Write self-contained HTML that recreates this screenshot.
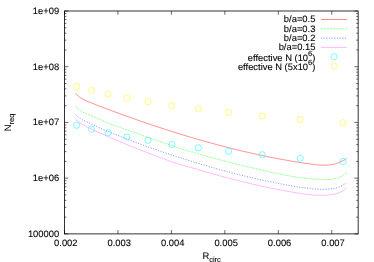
<!DOCTYPE html><html><head><meta charset="utf-8"><style>
html,body{margin:0;padding:0;background:#fff;overflow:hidden}
svg{display:block;position:absolute;left:0;top:0;opacity:0.999;will-change:transform}
text{font-family:"Liberation Sans",sans-serif;font-size:9.4px;fill:#000;text-rendering:geometricPrecision;stroke:#000;stroke-width:0.1px}
</style></head><body>
<svg width="374" height="262" viewBox="0 0 374 262">
<rect width="374" height="262" fill="#fff"/>
<g stroke="#000" stroke-width="0.8" fill="none" stroke-linecap="butt">
<rect x="64.5" y="11.0" width="293.65" height="222.9"/>
<path d="M64.5,233.90h3.8M358.15,233.90h-3.8M64.5,217.13h1.9M358.15,217.13h-1.9M64.5,207.31h1.9M358.15,207.31h-1.9M64.5,200.35h1.9M358.15,200.35h-1.9M64.5,194.95h1.9M358.15,194.95h-1.9M64.5,190.54h1.9M358.15,190.54h-1.9M64.5,186.81h1.9M358.15,186.81h-1.9M64.5,183.58h1.9M358.15,183.58h-1.9M64.5,180.72h1.9M358.15,180.72h-1.9M64.5,178.18h3.8M358.15,178.18h-3.8M64.5,161.40h1.9M358.15,161.40h-1.9M64.5,151.59h1.9M358.15,151.59h-1.9M64.5,144.63h1.9M358.15,144.63h-1.9M64.5,139.22h1.9M358.15,139.22h-1.9M64.5,134.81h1.9M358.15,134.81h-1.9M64.5,131.08h1.9M358.15,131.08h-1.9M64.5,127.85h1.9M358.15,127.85h-1.9M64.5,125.00h1.9M358.15,125.00h-1.9M64.5,122.45h3.8M358.15,122.45h-3.8M64.5,105.68h1.9M358.15,105.68h-1.9M64.5,95.86h1.9M358.15,95.86h-1.9M64.5,88.90h1.9M358.15,88.90h-1.9M64.5,83.50h1.9M358.15,83.50h-1.9M64.5,79.09h1.9M358.15,79.09h-1.9M64.5,75.36h1.9M358.15,75.36h-1.9M64.5,72.13h1.9M358.15,72.13h-1.9M64.5,69.27h1.9M358.15,69.27h-1.9M64.5,66.72h3.8M358.15,66.72h-3.8M64.5,49.95h1.9M358.15,49.95h-1.9M64.5,40.14h1.9M358.15,40.14h-1.9M64.5,33.18h1.9M358.15,33.18h-1.9M64.5,27.77h1.9M358.15,27.77h-1.9M64.5,23.36h1.9M358.15,23.36h-1.9M64.5,19.63h1.9M358.15,19.63h-1.9M64.5,16.40h1.9M358.15,16.40h-1.9M64.5,13.55h1.9M358.15,13.55h-1.9M64.5,11.00h3.8M358.15,11.00h-3.8M64.50,233.9v-3.8M64.50,11.0v3.8M117.95,233.9v-3.8M117.95,11.0v3.8M171.40,233.9v-3.8M171.40,11.0v3.8M224.85,233.9v-3.8M224.85,11.0v3.8M278.30,233.9v-3.8M278.30,11.0v3.8M331.75,233.9v-3.8M331.75,11.0v3.8" stroke-width="0.6"/>
</g>
<text x="59.20" y="236.82" text-anchor="end">100000</text>
<text x="59.20" y="181.09" text-anchor="end">1e+06</text>
<text x="59.20" y="125.37" text-anchor="end">1e+07</text>
<text x="59.20" y="69.64" text-anchor="end">1e+08</text>
<text x="59.20" y="13.92" text-anchor="end">1e+09</text>
<text x="65.80" y="246.45" text-anchor="middle">0.002</text>
<text x="119.25" y="246.45" text-anchor="middle">0.003</text>
<text x="172.70" y="246.45" text-anchor="middle">0.004</text>
<text x="226.15" y="246.45" text-anchor="middle">0.005</text>
<text x="279.60" y="246.45" text-anchor="middle">0.006</text>
<text x="333.05" y="246.45" text-anchor="middle">0.007</text>
<text x="202.4" y="259.3">R<tspan font-size="7.52" dy="2.82">circ</tspan></text>
<text transform="translate(11.35,131.2) rotate(-90)">N<tspan font-size="7.52" dy="2.82">req</tspan></text>
<g fill="none" stroke-width="0.85" stroke-opacity="0.54">
<path d="M75.6,93.4 L76.1,94.0 L76.6,94.5 L77.1,95.1 L77.6,95.5 L78.1,96.0 L78.6,96.4 L79.1,96.8 L79.6,97.2 L80.1,97.6 L80.6,97.9 L81.1,98.2 L81.6,98.5 L82.1,98.8 L82.6,99.0 L83.1,99.3 L83.6,99.5 L84.1,99.8 L84.6,100.0 L85.1,100.2 L85.6,100.5 L86.1,100.7 L86.6,100.9 L87.1,101.1 L87.6,101.4 L88.1,101.6 L88.6,101.8 L89.1,102.0 L89.6,102.2 L90.1,102.4 L90.6,102.6 L91.1,102.8 L91.6,103.0 L92.1,103.2 L92.6,103.4 L93.1,103.6 L93.6,103.8 L94.1,104.0 L94.6,104.2 L95.1,104.4 L95.6,104.6 L96.1,104.8 L96.6,105.0 L97.1,105.2 L97.6,105.4 L98.1,105.6 L98.6,105.8 L99.1,106.0 L99.6,106.2 L100.1,106.4 L100.6,106.5 L101.1,106.7 L101.6,106.9 L102.1,107.1 L102.6,107.3 L103.1,107.5 L103.6,107.7 L104.1,107.9 L104.6,108.1 L105.1,108.3 L105.6,108.4 L106.1,108.6 L106.6,108.8 L107.1,109.0 L107.6,109.2 L108.1,109.4 L108.6,109.6 L109.1,109.8 L109.6,109.9 L110.1,110.1 L110.6,110.3 L111.1,110.5 L111.6,110.7 L112.1,110.9 L112.6,111.1 L113.1,111.2 L113.6,111.4 L114.1,111.6 L114.6,111.8 L115.1,112.0 L115.6,112.2 L116.1,112.4 L116.6,112.5 L117.1,112.7 L117.6,112.9 L118.1,113.1 L118.6,113.3 L119.1,113.5 L119.6,113.6 L120.1,113.8 L120.6,114.0 L121.1,114.2 L121.6,114.4 L122.1,114.5 L122.6,114.7 L123.1,114.9 L123.6,115.1 L124.1,115.3 L124.6,115.5 L125.1,115.6 L125.6,115.8 L126.1,116.0 L126.6,116.2 L127.1,116.3 L127.6,116.5 L128.1,116.7 L128.6,116.9 L129.1,117.1 L129.6,117.2 L130.1,117.4 L130.6,117.6 L131.1,117.8 L131.6,118.0 L132.1,118.1 L132.6,118.3 L133.1,118.5 L133.6,118.7 L134.1,118.8 L134.6,119.0 L135.1,119.2 L135.6,119.4 L136.1,119.5 L136.6,119.7 L137.1,119.9 L137.6,120.1 L138.1,120.2 L138.6,120.4 L139.1,120.6 L139.6,120.8 L140.1,120.9 L140.6,121.1 L141.1,121.3 L141.6,121.5 L142.1,121.6 L142.6,121.8 L143.1,122.0 L143.6,122.1 L144.1,122.3 L144.6,122.5 L145.1,122.7 L145.6,122.8 L146.1,123.0 L146.6,123.2 L147.1,123.3 L147.6,123.5 L148.1,123.7 L148.6,123.8 L149.1,124.0 L149.6,124.2 L150.1,124.4 L150.6,124.5 L151.1,124.7 L151.6,124.9 L152.1,125.0 L152.6,125.2 L153.1,125.4 L153.6,125.5 L154.1,125.7 L154.6,125.9 L155.1,126.0 L155.6,126.2 L156.1,126.4 L156.6,126.5 L157.1,126.7 L157.6,126.9 L158.1,127.0 L158.6,127.2 L159.1,127.3 L159.6,127.5 L160.1,127.7 L160.6,127.8 L161.1,128.0 L161.6,128.2 L162.1,128.3 L162.6,128.5 L163.1,128.7 L163.6,128.8 L164.1,129.0 L164.6,129.1 L165.1,129.3 L165.6,129.5 L166.1,129.6 L166.6,129.8 L167.1,129.9 L167.6,130.1 L168.1,130.3 L168.6,130.4 L169.1,130.6 L169.6,130.7 L170.1,130.9 L170.6,131.1 L171.1,131.2 L171.6,131.4 L172.1,131.5 L172.6,131.7 L173.1,131.9 L173.6,132.0 L174.1,132.2 L174.6,132.3 L175.1,132.5 L175.6,132.6 L176.1,132.8 L176.6,132.9 L177.1,133.1 L177.6,133.3 L178.1,133.4 L178.6,133.6 L179.1,133.7 L179.6,133.9 L180.1,134.0 L180.6,134.2 L181.1,134.3 L181.6,134.5 L182.1,134.6 L182.6,134.8 L183.1,134.9 L183.6,135.1 L184.1,135.3 L184.6,135.4 L185.1,135.6 L185.6,135.7 L186.1,135.9 L186.6,136.0 L187.1,136.2 L187.6,136.3 L188.1,136.5 L188.6,136.6 L189.1,136.8 L189.6,136.9 L190.1,137.1 L190.6,137.2 L191.1,137.4 L191.6,137.5 L192.1,137.6 L192.6,137.8 L193.1,137.9 L193.6,138.1 L194.1,138.2 L194.6,138.4 L195.1,138.5 L195.6,138.7 L196.1,138.8 L196.6,139.0 L197.1,139.1 L197.6,139.3 L198.1,139.4 L198.6,139.5 L199.1,139.7 L199.6,139.8 L200.1,140.0 L200.6,140.1 L201.1,140.3 L201.6,140.4 L202.1,140.5 L202.6,140.7 L203.1,140.8 L203.6,141.0 L204.1,141.1 L204.6,141.3 L205.1,141.4 L205.6,141.5 L206.1,141.7 L206.6,141.8 L207.1,142.0 L207.6,142.1 L208.1,142.2 L208.6,142.4 L209.1,142.5 L209.6,142.6 L210.1,142.8 L210.6,142.9 L211.1,143.1 L211.6,143.2 L212.1,143.3 L212.6,143.5 L213.1,143.6 L213.6,143.7 L214.1,143.9 L214.6,144.0 L215.1,144.1 L215.6,144.3 L216.1,144.4 L216.6,144.6 L217.1,144.7 L217.6,144.8 L218.1,145.0 L218.6,145.1 L219.1,145.2 L219.6,145.4 L220.1,145.5 L220.6,145.6 L221.1,145.7 L221.6,145.9 L222.1,146.0 L222.6,146.1 L223.1,146.3 L223.6,146.4 L224.1,146.5 L224.6,146.7 L225.1,146.8 L225.6,146.9 L226.1,147.1 L226.6,147.2 L227.1,147.3 L227.6,147.4 L228.1,147.6 L228.6,147.7 L229.1,147.8 L229.6,147.9 L230.1,148.1 L230.6,148.2 L231.1,148.3 L231.6,148.5 L232.1,148.6 L232.6,148.7 L233.1,148.8 L233.6,149.0 L234.1,149.1 L234.6,149.2 L235.1,149.3 L235.6,149.4 L236.1,149.6 L236.6,149.7 L237.1,149.8 L237.6,149.9 L238.1,150.1 L238.6,150.2 L239.1,150.3 L239.6,150.4 L240.1,150.5 L240.6,150.7 L241.1,150.8 L241.6,150.9 L242.1,151.0 L242.6,151.1 L243.1,151.3 L243.6,151.4 L244.1,151.5 L244.6,151.6 L245.1,151.7 L245.6,151.8 L246.1,152.0 L246.6,152.1 L247.1,152.2 L247.6,152.3 L248.1,152.4 L248.6,152.5 L249.1,152.7 L249.6,152.8 L250.1,152.9 L250.6,153.0 L251.1,153.1 L251.6,153.2 L252.1,153.3 L252.6,153.4 L253.1,153.6 L253.6,153.7 L254.1,153.8 L254.6,153.9 L255.1,154.0 L255.6,154.1 L256.1,154.2 L256.6,154.3 L257.1,154.4 L257.6,154.6 L258.1,154.7 L258.6,154.8 L259.1,154.9 L259.6,155.0 L260.1,155.1 L260.6,155.2 L261.1,155.3 L261.6,155.4 L262.1,155.5 L262.6,155.6 L263.1,155.7 L263.6,155.8 L264.1,155.9 L264.6,156.0 L265.1,156.1 L265.6,156.2 L266.1,156.4 L266.6,156.5 L267.1,156.6 L267.6,156.7 L268.1,156.8 L268.6,156.9 L269.1,157.0 L269.6,157.1 L270.1,157.2 L270.6,157.3 L271.1,157.4 L271.6,157.5 L272.1,157.6 L272.6,157.7 L273.1,157.8 L273.6,157.9 L274.1,158.0 L274.6,158.0 L275.1,158.1 L275.6,158.2 L276.1,158.3 L276.6,158.4 L277.1,158.5 L277.6,158.6 L278.1,158.7 L278.6,158.8 L279.1,158.9 L279.6,159.0 L280.1,159.1 L280.6,159.2 L281.1,159.3 L281.6,159.4 L282.1,159.5 L282.6,159.5 L283.1,159.6 L283.6,159.7 L284.1,159.8 L284.6,159.9 L285.1,160.0 L285.6,160.1 L286.1,160.2 L286.6,160.3 L287.1,160.3 L287.6,160.4 L288.1,160.5 L288.6,160.6 L289.1,160.7 L289.6,160.8 L290.1,160.9 L290.6,161.0 L291.1,161.0 L291.6,161.1 L292.1,161.2 L292.6,161.3 L293.1,161.4 L293.6,161.5 L294.1,161.5 L294.6,161.6 L295.1,161.7 L295.6,161.8 L296.1,161.9 L296.6,161.9 L297.1,162.0 L297.6,162.1 L298.1,162.2 L298.6,162.3 L299.1,162.3 L299.6,162.4 L300.1,162.5 L300.6,162.6 L301.1,162.6 L301.6,162.7 L302.1,162.8 L302.6,162.9 L303.1,162.9 L303.6,163.0 L304.1,163.1 L304.6,163.2 L305.1,163.2 L305.6,163.3 L306.1,163.4 L306.6,163.5 L307.1,163.5 L307.6,163.6 L308.1,163.7 L308.6,163.7 L309.1,163.8 L309.6,163.9 L310.1,163.9 L310.6,164.0 L311.1,164.1 L311.6,164.1 L312.1,164.2 L312.6,164.3 L313.1,164.3 L313.6,164.4 L314.1,164.5 L314.6,164.5 L315.1,164.6 L315.6,164.6 L316.1,164.7 L316.6,164.8 L317.1,164.8 L317.6,164.9 L318.1,164.9 L318.6,164.9 L319.1,165.0 L319.6,165.0 L320.1,165.0 L320.6,165.1 L321.1,165.1 L321.6,165.1 L322.1,165.1 L322.6,165.2 L323.1,165.2 L323.6,165.2 L324.1,165.2 L324.6,165.2 L325.1,165.2 L325.6,165.2 L326.1,165.1 L326.6,165.1 L327.1,165.1 L327.6,165.1 L328.1,165.0 L328.6,165.0 L329.1,164.9 L329.6,164.9 L330.1,164.8 L330.6,164.8 L331.1,164.7 L331.6,164.6 L332.1,164.5 L332.6,164.4 L333.1,164.3 L333.6,164.2 L334.1,164.1 L334.6,164.0 L335.1,163.8 L335.6,163.7 L336.1,163.6 L336.6,163.4 L337.1,163.3 L337.6,163.1 L338.1,162.9 L338.6,162.7 L339.1,162.5 L339.6,162.3 L340.1,162.1 L340.6,161.9 L341.1,161.6 L341.6,161.4 L342.1,161.2 L342.6,160.9 L343.1,160.6 L343.6,160.3 L344.1,160.1 L344.6,159.8 L345.1,159.4 L345.6,159.1 L346.1,158.8 L346.6,158.4 L346.7,158.4" stroke="#f00"/>
<path d="M75.6,106.4 L76.1,106.9 L76.6,107.5 L77.1,108.0 L77.6,108.4 L78.1,108.9 L78.6,109.3 L79.1,109.7 L79.6,110.1 L80.1,110.4 L80.6,110.7 L81.1,111.1 L81.6,111.3 L82.1,111.6 L82.6,111.9 L83.1,112.2 L83.6,112.4 L84.1,112.6 L84.6,112.9 L85.1,113.1 L85.6,113.3 L86.1,113.5 L86.6,113.7 L87.1,114.0 L87.6,114.2 L88.1,114.4 L88.6,114.6 L89.1,114.8 L89.6,115.0 L90.1,115.2 L90.6,115.4 L91.1,115.6 L91.6,115.8 L92.1,116.0 L92.6,116.3 L93.1,116.5 L93.6,116.7 L94.1,116.9 L94.6,117.1 L95.1,117.4 L95.6,117.6 L96.1,117.8 L96.6,118.0 L97.1,118.2 L97.6,118.5 L98.1,118.7 L98.6,118.9 L99.1,119.1 L99.6,119.4 L100.1,119.6 L100.6,119.8 L101.1,120.0 L101.6,120.2 L102.1,120.5 L102.6,120.7 L103.1,120.9 L103.6,121.1 L104.1,121.3 L104.6,121.5 L105.1,121.8 L105.6,122.0 L106.1,122.2 L106.6,122.4 L107.1,122.6 L107.6,122.8 L108.1,123.0 L108.6,123.2 L109.1,123.4 L109.6,123.6 L110.1,123.8 L110.6,124.0 L111.1,124.2 L111.6,124.4 L112.1,124.6 L112.6,124.8 L113.1,124.9 L113.6,125.1 L114.1,125.3 L114.6,125.5 L115.1,125.7 L115.6,125.9 L116.1,126.0 L116.6,126.2 L117.1,126.4 L117.6,126.6 L118.1,126.8 L118.6,126.9 L119.1,127.1 L119.6,127.3 L120.1,127.5 L120.6,127.6 L121.1,127.8 L121.6,128.0 L122.1,128.2 L122.6,128.3 L123.1,128.5 L123.6,128.7 L124.1,128.9 L124.6,129.0 L125.1,129.2 L125.6,129.4 L126.1,129.5 L126.6,129.7 L127.1,129.9 L127.6,130.1 L128.1,130.2 L128.6,130.4 L129.1,130.6 L129.6,130.8 L130.1,130.9 L130.6,131.1 L131.1,131.3 L131.6,131.5 L132.1,131.6 L132.6,131.8 L133.1,132.0 L133.6,132.2 L134.1,132.4 L134.6,132.5 L135.1,132.7 L135.6,132.9 L136.1,133.1 L136.6,133.3 L137.1,133.4 L137.6,133.6 L138.1,133.8 L138.6,134.0 L139.1,134.2 L139.6,134.3 L140.1,134.5 L140.6,134.7 L141.1,134.9 L141.6,135.1 L142.1,135.3 L142.6,135.4 L143.1,135.6 L143.6,135.8 L144.1,136.0 L144.6,136.2 L145.1,136.3 L145.6,136.5 L146.1,136.7 L146.6,136.9 L147.1,137.1 L147.6,137.3 L148.1,137.4 L148.6,137.6 L149.1,137.8 L149.6,138.0 L150.1,138.2 L150.6,138.3 L151.1,138.5 L151.6,138.7 L152.1,138.9 L152.6,139.1 L153.1,139.2 L153.6,139.4 L154.1,139.6 L154.6,139.8 L155.1,139.9 L155.6,140.1 L156.1,140.3 L156.6,140.5 L157.1,140.6 L157.6,140.8 L158.1,141.0 L158.6,141.2 L159.1,141.3 L159.6,141.5 L160.1,141.7 L160.6,141.9 L161.1,142.0 L161.6,142.2 L162.1,142.4 L162.6,142.6 L163.1,142.7 L163.6,142.9 L164.1,143.1 L164.6,143.2 L165.1,143.4 L165.6,143.6 L166.1,143.7 L166.6,143.9 L167.1,144.1 L167.6,144.3 L168.1,144.4 L168.6,144.6 L169.1,144.8 L169.6,144.9 L170.1,145.1 L170.6,145.3 L171.1,145.4 L171.6,145.6 L172.1,145.8 L172.6,145.9 L173.1,146.1 L173.6,146.2 L174.1,146.4 L174.6,146.6 L175.1,146.7 L175.6,146.9 L176.1,147.1 L176.6,147.2 L177.1,147.4 L177.6,147.5 L178.1,147.7 L178.6,147.9 L179.1,148.0 L179.6,148.2 L180.1,148.3 L180.6,148.5 L181.1,148.7 L181.6,148.8 L182.1,149.0 L182.6,149.1 L183.1,149.3 L183.6,149.5 L184.1,149.6 L184.6,149.8 L185.1,149.9 L185.6,150.1 L186.1,150.2 L186.6,150.4 L187.1,150.5 L187.6,150.7 L188.1,150.8 L188.6,151.0 L189.1,151.2 L189.6,151.3 L190.1,151.5 L190.6,151.6 L191.1,151.8 L191.6,151.9 L192.1,152.1 L192.6,152.2 L193.1,152.4 L193.6,152.5 L194.1,152.7 L194.6,152.8 L195.1,152.9 L195.6,153.1 L196.1,153.2 L196.6,153.4 L197.1,153.5 L197.6,153.7 L198.1,153.8 L198.6,154.0 L199.1,154.1 L199.6,154.3 L200.1,154.4 L200.6,154.5 L201.1,154.7 L201.6,154.8 L202.1,155.0 L202.6,155.1 L203.1,155.3 L203.6,155.4 L204.1,155.5 L204.6,155.7 L205.1,155.8 L205.6,156.0 L206.1,156.1 L206.6,156.2 L207.1,156.4 L207.6,156.5 L208.1,156.6 L208.6,156.8 L209.1,156.9 L209.6,157.1 L210.1,157.2 L210.6,157.3 L211.1,157.5 L211.6,157.6 L212.1,157.7 L212.6,157.9 L213.1,158.0 L213.6,158.1 L214.1,158.3 L214.6,158.4 L215.1,158.5 L215.6,158.7 L216.1,158.8 L216.6,158.9 L217.1,159.1 L217.6,159.2 L218.1,159.3 L218.6,159.5 L219.1,159.6 L219.6,159.7 L220.1,159.9 L220.6,160.0 L221.1,160.1 L221.6,160.2 L222.1,160.4 L222.6,160.5 L223.1,160.6 L223.6,160.8 L224.1,160.9 L224.6,161.0 L225.1,161.1 L225.6,161.3 L226.1,161.4 L226.6,161.5 L227.1,161.7 L227.6,161.8 L228.1,161.9 L228.6,162.0 L229.1,162.2 L229.6,162.3 L230.1,162.4 L230.6,162.5 L231.1,162.7 L231.6,162.8 L232.1,162.9 L232.6,163.0 L233.1,163.2 L233.6,163.3 L234.1,163.4 L234.6,163.5 L235.1,163.7 L235.6,163.8 L236.1,163.9 L236.6,164.0 L237.1,164.2 L237.6,164.3 L238.1,164.4 L238.6,164.5 L239.1,164.7 L239.6,164.8 L240.1,164.9 L240.6,165.0 L241.1,165.1 L241.6,165.3 L242.1,165.4 L242.6,165.5 L243.1,165.6 L243.6,165.7 L244.1,165.9 L244.6,166.0 L245.1,166.1 L245.6,166.2 L246.1,166.4 L246.6,166.5 L247.1,166.6 L247.6,166.7 L248.1,166.8 L248.6,167.0 L249.1,167.1 L249.6,167.2 L250.1,167.3 L250.6,167.4 L251.1,167.6 L251.6,167.7 L252.1,167.8 L252.6,167.9 L253.1,168.0 L253.6,168.2 L254.1,168.3 L254.6,168.4 L255.1,168.5 L255.6,168.6 L256.1,168.8 L256.6,168.9 L257.1,169.0 L257.6,169.1 L258.1,169.2 L258.6,169.4 L259.1,169.5 L259.6,169.6 L260.1,169.7 L260.6,169.8 L261.1,170.0 L261.6,170.1 L262.1,170.2 L262.6,170.3 L263.1,170.4 L263.6,170.5 L264.1,170.7 L264.6,170.8 L265.1,170.9 L265.6,171.0 L266.1,171.1 L266.6,171.2 L267.1,171.3 L267.6,171.5 L268.1,171.6 L268.6,171.7 L269.1,171.8 L269.6,171.9 L270.1,172.0 L270.6,172.1 L271.1,172.2 L271.6,172.4 L272.1,172.5 L272.6,172.6 L273.1,172.7 L273.6,172.8 L274.1,172.9 L274.6,173.0 L275.1,173.1 L275.6,173.2 L276.1,173.3 L276.6,173.4 L277.1,173.5 L277.6,173.6 L278.1,173.7 L278.6,173.9 L279.1,174.0 L279.6,174.1 L280.1,174.2 L280.6,174.3 L281.1,174.4 L281.6,174.5 L282.1,174.6 L282.6,174.7 L283.1,174.8 L283.6,174.8 L284.1,174.9 L284.6,175.0 L285.1,175.1 L285.6,175.2 L286.1,175.3 L286.6,175.4 L287.1,175.5 L287.6,175.6 L288.1,175.7 L288.6,175.8 L289.1,175.9 L289.6,175.9 L290.1,176.0 L290.6,176.1 L291.1,176.2 L291.6,176.3 L292.1,176.4 L292.6,176.5 L293.1,176.5 L293.6,176.6 L294.1,176.7 L294.6,176.8 L295.1,176.8 L295.6,176.9 L296.1,177.0 L296.6,177.1 L297.1,177.1 L297.6,177.2 L298.1,177.3 L298.6,177.4 L299.1,177.4 L299.6,177.5 L300.1,177.6 L300.6,177.6 L301.1,177.7 L301.6,177.8 L302.1,177.8 L302.6,177.9 L303.1,177.9 L303.6,178.0 L304.1,178.1 L304.6,178.1 L305.1,178.2 L305.6,178.2 L306.1,178.3 L306.6,178.3 L307.1,178.4 L307.6,178.5 L308.1,178.5 L308.6,178.6 L309.1,178.6 L309.6,178.6 L310.1,178.7 L310.6,178.7 L311.1,178.8 L311.6,178.8 L312.1,178.9 L312.6,178.9 L313.1,179.0 L313.6,179.0 L314.1,179.0 L314.6,179.1 L315.1,179.1 L315.6,179.2 L316.1,179.2 L316.6,179.2 L317.1,179.3 L317.6,179.3 L318.1,179.3 L318.6,179.4 L319.1,179.4 L319.6,179.4 L320.1,179.4 L320.6,179.5 L321.1,179.5 L321.6,179.5 L322.1,179.5 L322.6,179.6 L323.1,179.6 L323.6,179.6 L324.1,179.6 L324.6,179.6 L325.1,179.6 L325.6,179.6 L326.1,179.6 L326.6,179.6 L327.1,179.6 L327.6,179.6 L328.1,179.6 L328.6,179.6 L329.1,179.5 L329.6,179.5 L330.1,179.5 L330.6,179.4 L331.1,179.4 L331.6,179.3 L332.1,179.2 L332.6,179.2 L333.1,179.1 L333.6,179.0 L334.1,178.9 L334.6,178.8 L335.1,178.7 L335.6,178.6 L336.1,178.4 L336.6,178.3 L337.1,178.1 L337.6,178.0 L338.1,177.8 L338.6,177.6 L339.1,177.4 L339.6,177.2 L340.1,177.0 L340.6,176.8 L341.1,176.5 L341.6,176.3 L342.1,176.0 L342.6,175.7 L343.1,175.4 L343.6,175.1 L344.1,174.8 L344.6,174.5 L345.1,174.1 L345.6,173.8 L346.1,173.4 L346.6,173.0 L346.7,172.9" stroke="#0f0" stroke-dasharray="1.95 1.1"/>
<path d="M75.6,114.6 L76.1,115.1 L76.6,115.6 L77.1,116.1 L77.6,116.5 L78.1,117.0 L78.6,117.4 L79.1,117.7 L79.6,118.1 L80.1,118.4 L80.6,118.7 L81.1,119.0 L81.6,119.3 L82.1,119.6 L82.6,119.9 L83.1,120.1 L83.6,120.4 L84.1,120.6 L84.6,120.8 L85.1,121.0 L85.6,121.3 L86.1,121.5 L86.6,121.7 L87.1,122.0 L87.6,122.2 L88.1,122.4 L88.6,122.6 L89.1,122.9 L89.6,123.1 L90.1,123.4 L90.6,123.6 L91.1,123.8 L91.6,124.1 L92.1,124.3 L92.6,124.6 L93.1,124.8 L93.6,125.0 L94.1,125.3 L94.6,125.5 L95.1,125.7 L95.6,126.0 L96.1,126.2 L96.6,126.4 L97.1,126.7 L97.6,126.9 L98.1,127.1 L98.6,127.4 L99.1,127.6 L99.6,127.8 L100.1,128.0 L100.6,128.3 L101.1,128.5 L101.6,128.7 L102.1,128.9 L102.6,129.1 L103.1,129.4 L103.6,129.6 L104.1,129.8 L104.6,130.0 L105.1,130.2 L105.6,130.4 L106.1,130.6 L106.6,130.9 L107.1,131.1 L107.6,131.3 L108.1,131.5 L108.6,131.7 L109.1,131.9 L109.6,132.1 L110.1,132.3 L110.6,132.5 L111.1,132.7 L111.6,132.9 L112.1,133.1 L112.6,133.3 L113.1,133.5 L113.6,133.7 L114.1,133.9 L114.6,134.1 L115.1,134.3 L115.6,134.5 L116.1,134.7 L116.6,134.9 L117.1,135.1 L117.6,135.3 L118.1,135.5 L118.6,135.7 L119.1,135.9 L119.6,136.1 L120.1,136.3 L120.6,136.5 L121.1,136.7 L121.6,136.9 L122.1,137.1 L122.6,137.3 L123.1,137.5 L123.6,137.7 L124.1,137.9 L124.6,138.1 L125.1,138.3 L125.6,138.5 L126.1,138.7 L126.6,138.9 L127.1,139.1 L127.6,139.2 L128.1,139.4 L128.6,139.6 L129.1,139.8 L129.6,140.0 L130.1,140.2 L130.6,140.4 L131.1,140.6 L131.6,140.8 L132.1,141.0 L132.6,141.2 L133.1,141.4 L133.6,141.6 L134.1,141.7 L134.6,141.9 L135.1,142.1 L135.6,142.3 L136.1,142.5 L136.6,142.7 L137.1,142.9 L137.6,143.1 L138.1,143.3 L138.6,143.4 L139.1,143.6 L139.6,143.8 L140.1,144.0 L140.6,144.2 L141.1,144.4 L141.6,144.6 L142.1,144.7 L142.6,144.9 L143.1,145.1 L143.6,145.3 L144.1,145.5 L144.6,145.7 L145.1,145.8 L145.6,146.0 L146.1,146.2 L146.6,146.4 L147.1,146.6 L147.6,146.8 L148.1,146.9 L148.6,147.1 L149.1,147.3 L149.6,147.5 L150.1,147.6 L150.6,147.8 L151.1,148.0 L151.6,148.2 L152.1,148.4 L152.6,148.5 L153.1,148.7 L153.6,148.9 L154.1,149.1 L154.6,149.2 L155.1,149.4 L155.6,149.6 L156.1,149.8 L156.6,149.9 L157.1,150.1 L157.6,150.3 L158.1,150.5 L158.6,150.6 L159.1,150.8 L159.6,151.0 L160.1,151.1 L160.6,151.3 L161.1,151.5 L161.6,151.7 L162.1,151.8 L162.6,152.0 L163.1,152.2 L163.6,152.3 L164.1,152.5 L164.6,152.7 L165.1,152.8 L165.6,153.0 L166.1,153.2 L166.6,153.3 L167.1,153.5 L167.6,153.7 L168.1,153.8 L168.6,154.0 L169.1,154.2 L169.6,154.3 L170.1,154.5 L170.6,154.7 L171.1,154.8 L171.6,155.0 L172.1,155.2 L172.6,155.3 L173.1,155.5 L173.6,155.6 L174.1,155.8 L174.6,156.0 L175.1,156.1 L175.6,156.3 L176.1,156.5 L176.6,156.6 L177.1,156.8 L177.6,156.9 L178.1,157.1 L178.6,157.3 L179.1,157.4 L179.6,157.6 L180.1,157.7 L180.6,157.9 L181.1,158.1 L181.6,158.2 L182.1,158.4 L182.6,158.5 L183.1,158.7 L183.6,158.8 L184.1,159.0 L184.6,159.2 L185.1,159.3 L185.6,159.5 L186.1,159.6 L186.6,159.8 L187.1,159.9 L187.6,160.1 L188.1,160.3 L188.6,160.4 L189.1,160.6 L189.6,160.7 L190.1,160.9 L190.6,161.0 L191.1,161.2 L191.6,161.3 L192.1,161.5 L192.6,161.6 L193.1,161.8 L193.6,162.0 L194.1,162.1 L194.6,162.3 L195.1,162.4 L195.6,162.6 L196.1,162.7 L196.6,162.9 L197.1,163.0 L197.6,163.2 L198.1,163.3 L198.6,163.5 L199.1,163.6 L199.6,163.8 L200.1,163.9 L200.6,164.1 L201.1,164.2 L201.6,164.4 L202.1,164.5 L202.6,164.7 L203.1,164.8 L203.6,165.0 L204.1,165.1 L204.6,165.3 L205.1,165.4 L205.6,165.5 L206.1,165.7 L206.6,165.8 L207.1,166.0 L207.6,166.1 L208.1,166.3 L208.6,166.4 L209.1,166.6 L209.6,166.7 L210.1,166.9 L210.6,167.0 L211.1,167.1 L211.6,167.3 L212.1,167.4 L212.6,167.6 L213.1,167.7 L213.6,167.9 L214.1,168.0 L214.6,168.1 L215.1,168.3 L215.6,168.4 L216.1,168.6 L216.6,168.7 L217.1,168.8 L217.6,169.0 L218.1,169.1 L218.6,169.3 L219.1,169.4 L219.6,169.5 L220.1,169.7 L220.6,169.8 L221.1,170.0 L221.6,170.1 L222.1,170.2 L222.6,170.4 L223.1,170.5 L223.6,170.6 L224.1,170.8 L224.6,170.9 L225.1,171.0 L225.6,171.2 L226.1,171.3 L226.6,171.4 L227.1,171.6 L227.6,171.7 L228.1,171.8 L228.6,172.0 L229.1,172.1 L229.6,172.2 L230.1,172.4 L230.6,172.5 L231.1,172.6 L231.6,172.8 L232.1,172.9 L232.6,173.0 L233.1,173.2 L233.6,173.3 L234.1,173.4 L234.6,173.5 L235.1,173.7 L235.6,173.8 L236.1,173.9 L236.6,174.1 L237.1,174.2 L237.6,174.3 L238.1,174.4 L238.6,174.6 L239.1,174.7 L239.6,174.8 L240.1,174.9 L240.6,175.1 L241.1,175.2 L241.6,175.3 L242.1,175.4 L242.6,175.5 L243.1,175.7 L243.6,175.8 L244.1,175.9 L244.6,176.0 L245.1,176.1 L245.6,176.3 L246.1,176.4 L246.6,176.5 L247.1,176.6 L247.6,176.7 L248.1,176.9 L248.6,177.0 L249.1,177.1 L249.6,177.2 L250.1,177.3 L250.6,177.4 L251.1,177.6 L251.6,177.7 L252.1,177.8 L252.6,177.9 L253.1,178.0 L253.6,178.1 L254.1,178.3 L254.6,178.4 L255.1,178.5 L255.6,178.6 L256.1,178.7 L256.6,178.8 L257.1,178.9 L257.6,179.0 L258.1,179.1 L258.6,179.3 L259.1,179.4 L259.6,179.5 L260.1,179.6 L260.6,179.7 L261.1,179.8 L261.6,179.9 L262.1,180.0 L262.6,180.1 L263.1,180.2 L263.6,180.3 L264.1,180.5 L264.6,180.6 L265.1,180.7 L265.6,180.8 L266.1,180.9 L266.6,181.0 L267.1,181.1 L267.6,181.2 L268.1,181.3 L268.6,181.4 L269.1,181.5 L269.6,181.6 L270.1,181.7 L270.6,181.8 L271.1,181.9 L271.6,182.0 L272.1,182.1 L272.6,182.2 L273.1,182.3 L273.6,182.4 L274.1,182.5 L274.6,182.6 L275.1,182.7 L275.6,182.8 L276.1,182.9 L276.6,183.0 L277.1,183.1 L277.6,183.2 L278.1,183.3 L278.6,183.4 L279.1,183.5 L279.6,183.6 L280.1,183.7 L280.6,183.8 L281.1,183.9 L281.6,184.0 L282.1,184.1 L282.6,184.2 L283.1,184.3 L283.6,184.4 L284.1,184.5 L284.6,184.6 L285.1,184.7 L285.6,184.8 L286.1,184.9 L286.6,185.0 L287.1,185.1 L287.6,185.1 L288.1,185.2 L288.6,185.3 L289.1,185.4 L289.6,185.5 L290.1,185.6 L290.6,185.7 L291.1,185.8 L291.6,185.9 L292.1,186.0 L292.6,186.1 L293.1,186.1 L293.6,186.2 L294.1,186.3 L294.6,186.4 L295.1,186.5 L295.6,186.6 L296.1,186.6 L296.6,186.7 L297.1,186.8 L297.6,186.9 L298.1,187.0 L298.6,187.0 L299.1,187.1 L299.6,187.2 L300.1,187.3 L300.6,187.4 L301.1,187.4 L301.6,187.5 L302.1,187.6 L302.6,187.6 L303.1,187.7 L303.6,187.8 L304.1,187.8 L304.6,187.9 L305.1,188.0 L305.6,188.0 L306.1,188.1 L306.6,188.2 L307.1,188.2 L307.6,188.3 L308.1,188.3 L308.6,188.4 L309.1,188.5 L309.6,188.5 L310.1,188.6 L310.6,188.6 L311.1,188.7 L311.6,188.7 L312.1,188.7 L312.6,188.8 L313.1,188.8 L313.6,188.9 L314.1,188.9 L314.6,189.0 L315.1,189.0 L315.6,189.0 L316.1,189.1 L316.6,189.1 L317.1,189.1 L317.6,189.1 L318.1,189.2 L318.6,189.2 L319.1,189.2 L319.6,189.2 L320.1,189.2 L320.6,189.3 L321.1,189.3 L321.6,189.3 L322.1,189.3 L322.6,189.3 L323.1,189.3 L323.6,189.3 L324.1,189.3 L324.6,189.3 L325.1,189.3 L325.6,189.3 L326.1,189.3 L326.6,189.2 L327.1,189.2 L327.6,189.2 L328.1,189.2 L328.6,189.1 L329.1,189.1 L329.6,189.0 L330.1,189.0 L330.6,188.9 L331.1,188.9 L331.6,188.8 L332.1,188.7 L332.6,188.7 L333.1,188.6 L333.6,188.5 L334.1,188.4 L334.6,188.3 L335.1,188.2 L335.6,188.1 L336.1,187.9 L336.6,187.8 L337.1,187.7 L337.6,187.5 L338.1,187.3 L338.6,187.2 L339.1,187.0 L339.6,186.8 L340.1,186.6 L340.6,186.4 L341.1,186.2 L341.6,185.9 L342.1,185.7 L342.6,185.4 L343.1,185.1 L343.6,184.8 L344.1,184.5 L344.6,184.2 L345.1,183.8 L345.6,183.5 L346.1,183.1" stroke="#00f" stroke-dasharray="1.1 1.56"/>
<path d="M75.5,119.3 L76.0,119.7 L76.5,120.2 L77.0,120.6 L77.5,121.0 L78.0,121.4 L78.5,121.7 L79.0,122.1 L79.5,122.5 L80.0,122.8 L80.5,123.2 L81.0,123.5 L81.5,123.8 L82.0,124.1 L82.5,124.4 L83.0,124.7 L83.5,125.0 L84.0,125.3 L84.5,125.6 L85.0,125.9 L85.5,126.1 L86.0,126.4 L86.5,126.7 L87.0,126.9 L87.5,127.2 L88.0,127.4 L88.5,127.7 L89.0,127.9 L89.5,128.2 L90.0,128.4 L90.5,128.7 L91.0,128.9 L91.5,129.1 L92.0,129.4 L92.5,129.6 L93.0,129.9 L93.5,130.1 L94.0,130.3 L94.5,130.6 L95.0,130.8 L95.5,131.0 L96.0,131.2 L96.5,131.5 L97.0,131.7 L97.5,131.9 L98.0,132.1 L98.5,132.4 L99.0,132.6 L99.5,132.8 L100.0,133.0 L100.5,133.3 L101.0,133.5 L101.5,133.7 L102.0,133.9 L102.5,134.2 L103.0,134.4 L103.5,134.6 L104.0,134.8 L104.5,135.0 L105.0,135.3 L105.5,135.5 L106.0,135.7 L106.5,135.9 L107.0,136.1 L107.5,136.4 L108.0,136.6 L108.5,136.8 L109.0,137.0 L109.5,137.2 L110.0,137.4 L110.5,137.7 L111.0,137.9 L111.5,138.1 L112.0,138.3 L112.5,138.5 L113.0,138.7 L113.5,138.9 L114.0,139.2 L114.5,139.4 L115.0,139.6 L115.5,139.8 L116.0,140.0 L116.5,140.2 L117.0,140.4 L117.5,140.6 L118.0,140.9 L118.5,141.1 L119.0,141.3 L119.5,141.5 L120.0,141.7 L120.5,141.9 L121.0,142.1 L121.5,142.3 L122.0,142.5 L122.5,142.7 L123.0,142.9 L123.5,143.1 L124.0,143.4 L124.5,143.6 L125.0,143.8 L125.5,144.0 L126.0,144.2 L126.5,144.4 L127.0,144.6 L127.5,144.8 L128.0,145.0 L128.5,145.2 L129.0,145.4 L129.5,145.6 L130.0,145.8 L130.5,146.0 L131.0,146.2 L131.5,146.4 L132.0,146.6 L132.5,146.8 L133.0,147.0 L133.5,147.2 L134.0,147.4 L134.5,147.6 L135.0,147.8 L135.5,148.0 L136.0,148.2 L136.5,148.4 L137.0,148.6 L137.5,148.8 L138.0,149.0 L138.5,149.2 L139.0,149.4 L139.5,149.6 L140.0,149.8 L140.5,150.0 L141.0,150.2 L141.5,150.4 L142.0,150.6 L142.5,150.8 L143.0,151.0 L143.5,151.2 L144.0,151.4 L144.5,151.6 L145.0,151.8 L145.5,151.9 L146.0,152.1 L146.5,152.3 L147.0,152.5 L147.5,152.7 L148.0,152.9 L148.5,153.1 L149.0,153.3 L149.5,153.5 L150.0,153.7 L150.5,153.9 L151.0,154.1 L151.5,154.3 L152.0,154.4 L152.5,154.6 L153.0,154.8 L153.5,155.0 L154.0,155.2 L154.5,155.4 L155.0,155.6 L155.5,155.8 L156.0,156.0 L156.5,156.2 L157.0,156.3 L157.5,156.5 L158.0,156.7 L158.5,156.9 L159.0,157.1 L159.5,157.3 L160.0,157.5 L160.5,157.7 L161.0,157.9 L161.5,158.0 L162.0,158.2 L162.5,158.4 L163.0,158.6 L163.5,158.8 L164.0,159.0 L164.5,159.2 L165.0,159.4 L165.5,159.5 L166.0,159.7 L166.5,159.9 L167.0,160.1 L167.5,160.3 L168.0,160.5 L168.5,160.6 L169.0,160.8 L169.5,161.0 L170.0,161.2 L170.5,161.4 L171.0,161.5 L171.5,161.7 L172.0,161.9 L172.5,162.0 L173.0,162.2 L173.5,162.4 L174.0,162.5 L174.5,162.7 L175.0,162.9 L175.5,163.0 L176.0,163.2 L176.5,163.3 L177.0,163.5 L177.5,163.7 L178.0,163.8 L178.5,164.0 L179.0,164.1 L179.5,164.2 L180.0,164.4 L180.5,164.5 L181.0,164.7 L181.5,164.8 L182.0,165.0 L182.5,165.1 L183.0,165.3 L183.5,165.4 L184.0,165.5 L184.5,165.7 L185.0,165.8 L185.5,166.0 L186.0,166.1 L186.5,166.2 L187.0,166.4 L187.5,166.5 L188.0,166.7 L188.5,166.8 L189.0,166.9 L189.5,167.1 L190.0,167.2 L190.5,167.4 L191.0,167.5 L191.5,167.7 L192.0,167.8 L192.5,167.9 L193.0,168.1 L193.5,168.2 L194.0,168.4 L194.5,168.5 L195.0,168.7 L195.5,168.8 L196.0,169.0 L196.5,169.1 L197.0,169.3 L197.5,169.4 L198.0,169.5 L198.5,169.7 L199.0,169.8 L199.5,170.0 L200.0,170.1 L200.5,170.3 L201.0,170.4 L201.5,170.6 L202.0,170.7 L202.5,170.9 L203.0,171.0 L203.5,171.2 L204.0,171.3 L204.5,171.5 L205.0,171.6 L205.5,171.8 L206.0,171.9 L206.5,172.0 L207.0,172.2 L207.5,172.3 L208.0,172.5 L208.5,172.6 L209.0,172.8 L209.5,172.9 L210.0,173.1 L210.5,173.2 L211.0,173.3 L211.5,173.5 L212.0,173.6 L212.5,173.8 L213.0,173.9 L213.5,174.1 L214.0,174.2 L214.5,174.3 L215.0,174.5 L215.5,174.6 L216.0,174.8 L216.5,174.9 L217.0,175.0 L217.5,175.2 L218.0,175.3 L218.5,175.4 L219.0,175.6 L219.5,175.7 L220.0,175.9 L220.5,176.0 L221.0,176.1 L221.5,176.3 L222.0,176.4 L222.5,176.5 L223.0,176.7 L223.5,176.8 L224.0,176.9 L224.5,177.1 L225.0,177.2 L225.5,177.3 L226.0,177.5 L226.5,177.6 L227.0,177.7 L227.5,177.9 L228.0,178.0 L228.5,178.1 L229.0,178.3 L229.5,178.4 L230.0,178.5 L230.5,178.7 L231.0,178.8 L231.5,178.9 L232.0,179.1 L232.5,179.2 L233.0,179.3 L233.5,179.4 L234.0,179.6 L234.5,179.7 L235.0,179.8 L235.5,180.0 L236.0,180.1 L236.5,180.2 L237.0,180.3 L237.5,180.5 L238.0,180.6 L238.5,180.7 L239.0,180.8 L239.5,181.0 L240.0,181.1 L240.5,181.2 L241.0,181.3 L241.5,181.5 L242.0,181.6 L242.5,181.7 L243.0,181.8 L243.5,181.9 L244.0,182.1 L244.5,182.2 L245.0,182.3 L245.5,182.4 L246.0,182.5 L246.5,182.7 L247.0,182.8 L247.5,182.9 L248.0,183.0 L248.5,183.1 L249.0,183.3 L249.5,183.4 L250.0,183.5 L250.5,183.6 L251.0,183.7 L251.5,183.8 L252.0,184.0 L252.5,184.1 L253.0,184.2 L253.5,184.3 L254.0,184.4 L254.5,184.5 L255.0,184.6 L255.5,184.8 L256.0,184.9 L256.5,185.0 L257.0,185.1 L257.5,185.2 L258.0,185.3 L258.5,185.4 L259.0,185.5 L259.5,185.7 L260.0,185.8 L260.5,185.9 L261.0,186.0 L261.5,186.1 L262.0,186.2 L262.5,186.3 L263.0,186.4 L263.5,186.5 L264.0,186.6 L264.5,186.7 L265.0,186.8 L265.5,187.0 L266.0,187.1 L266.5,187.2 L267.0,187.3 L267.5,187.4 L268.0,187.5 L268.5,187.6 L269.0,187.7 L269.5,187.8 L270.0,187.9 L270.5,188.0 L271.0,188.1 L271.5,188.2 L272.0,188.3 L272.5,188.4 L273.0,188.5 L273.5,188.6 L274.0,188.7 L274.5,188.8 L275.0,188.9 L275.5,189.0 L276.0,189.1 L276.5,189.2 L277.0,189.3 L277.5,189.4 L278.0,189.5 L278.5,189.6 L279.0,189.7 L279.5,189.8 L280.0,189.9 L280.5,190.0 L281.0,190.1 L281.5,190.2 L282.0,190.2 L282.5,190.3 L283.0,190.4 L283.5,190.5 L284.0,190.6 L284.5,190.7 L285.0,190.8 L285.5,190.9 L286.0,191.0 L286.5,191.1 L287.0,191.2 L287.5,191.3 L288.0,191.3 L288.5,191.4 L289.0,191.5 L289.5,191.6 L290.0,191.7 L290.5,191.8 L291.0,191.9 L291.5,192.0 L292.0,192.0 L292.5,192.1 L293.0,192.2 L293.5,192.3 L294.0,192.4 L294.5,192.5 L295.0,192.5 L295.5,192.6 L296.0,192.7 L296.5,192.8 L297.0,192.9 L297.5,193.0 L298.0,193.0 L298.5,193.1 L299.0,193.2 L299.5,193.3 L300.0,193.4 L300.5,193.4 L301.0,193.5 L301.5,193.6 L302.0,193.7 L302.5,193.7 L303.0,193.8 L303.5,193.9 L304.0,194.0 L304.5,194.0 L305.0,194.1 L305.5,194.2 L306.0,194.2 L306.5,194.3 L307.0,194.4 L307.5,194.4 L308.0,194.5 L308.5,194.6 L309.0,194.6 L309.5,194.7 L310.0,194.7 L310.5,194.8 L311.0,194.8 L311.5,194.9 L312.0,194.9 L312.5,195.0 L313.0,195.0 L313.5,195.1 L314.0,195.1 L314.5,195.1 L315.0,195.2 L315.5,195.2 L316.0,195.2 L316.5,195.2 L317.0,195.3 L317.5,195.3 L318.0,195.3 L318.5,195.3 L319.0,195.3 L319.5,195.3 L320.0,195.4 L320.5,195.4 L321.0,195.4 L321.5,195.4 L322.0,195.4 L322.5,195.3 L323.0,195.3 L323.5,195.3 L324.0,195.3 L324.5,195.3 L325.0,195.3 L325.5,195.2 L326.0,195.2 L326.5,195.2 L327.0,195.1 L327.5,195.1 L328.0,195.0 L328.5,195.0 L329.0,194.9 L329.5,194.9 L330.0,194.8 L330.5,194.7 L331.0,194.6 L331.5,194.6 L332.0,194.5 L332.5,194.4 L333.0,194.3 L333.5,194.2 L334.0,194.1 L334.5,194.0 L335.0,193.9 L335.5,193.8 L336.0,193.7 L336.5,193.5 L337.0,193.4 L337.5,193.2 L338.0,193.0 L338.5,192.9 L339.0,192.7 L339.5,192.5 L340.0,192.2 L340.5,192.0 L341.0,191.7 L341.5,191.5 L342.0,191.2 L342.5,190.9 L343.0,190.6 L343.5,190.3 L344.0,189.9 L344.5,189.5 L345.0,189.1 L345.5,188.7 L346.0,188.3 L346.5,187.8 L346.7,187.6" stroke="#f0f" stroke-opacity="0.33"/>
<path d="M321,19.5H347" stroke="#f00"/>
<path d="M321,28.8H347" stroke="#0f0" stroke-dasharray="1.95 1.1"/>
<path d="M321,38.1H347" stroke="#00f" stroke-dasharray="1.1 1.56"/>
<path d="M321,47.4H347" stroke="#f0f" stroke-opacity="0.33"/>
</g>
<g fill="none" stroke-width="0.85" stroke-opacity="0.6">
<g stroke="#0ff">
<circle cx="76.6" cy="125.3" r="3.1"/>
<circle cx="91.45" cy="129.2" r="3.1"/>
<circle cx="108.15" cy="132.8" r="3.1"/>
<circle cx="126.9" cy="137.0" r="3.1"/>
<circle cx="148.05" cy="140.4" r="3.1"/>
<circle cx="171.8" cy="144.4" r="3.1"/>
<circle cx="198.4" cy="147.7" r="3.1"/>
<circle cx="228.5" cy="151.3" r="3.1"/>
<circle cx="262.3" cy="154.7" r="3.1"/>
<circle cx="300.25" cy="158.3" r="3.1"/>
<circle cx="343.0" cy="161.5" r="3.1"/>
<circle cx="334.1" cy="56.7" r="3.1"/>
</g><g stroke="#ff0">
<circle cx="76.6" cy="86.5" r="3.1"/>
<circle cx="91.45" cy="90.4" r="3.1"/>
<circle cx="108.15" cy="94.0" r="3.1"/>
<circle cx="126.9" cy="98.2" r="3.1"/>
<circle cx="148.05" cy="101.6" r="3.1"/>
<circle cx="171.8" cy="105.6" r="3.1"/>
<circle cx="198.4" cy="108.9" r="3.1"/>
<circle cx="228.5" cy="112.5" r="3.1"/>
<circle cx="262.3" cy="115.9" r="3.1"/>
<circle cx="300.25" cy="119.5" r="3.1"/>
<circle cx="343.0" cy="122.7" r="3.1"/>
<circle cx="334.1" cy="66.0" r="3.1"/>
</g></g>
<text x="315.4" y="22.42" text-anchor="end">b/a=0.5</text>
<text x="315.4" y="31.72" text-anchor="end">b/a=0.3</text>
<text x="315.4" y="41.02" text-anchor="end">b/a=0.2</text>
<text x="315.4" y="50.32" text-anchor="end">b/a=0.15</text>
<text x="315.4" y="60.57" text-anchor="end">effective N (10<tspan font-size="7.52" dy="-4.42">6</tspan><tspan dy="4.42">)</tspan></text>
<text x="315.4" y="69.87" text-anchor="end">effective N (5x10<tspan font-size="7.52" dy="-4.42">6</tspan><tspan dy="4.42">)</tspan></text>
</svg></body></html>
